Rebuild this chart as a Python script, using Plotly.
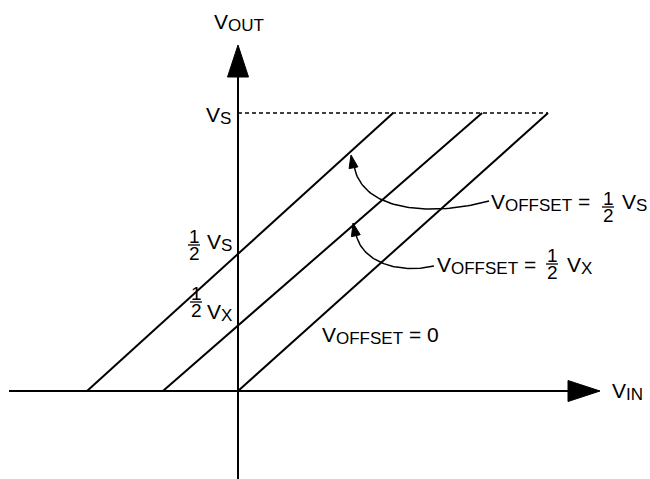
import numpy as np
import plotly.graph_objects as go

# transfer lines, VOUT normalised so that VS = 1 (VIN on the same scale)
vs_level = 1.0
half_vs = 0.5
half_vx = 0.234
vin_start = [-0.543, -0.270, 0.0]   # where each line leaves VOUT = 0
vin_end = [0.558, 0.878, 1.115]     # where each line reaches VS
vout_start = [0.0, 0.0, 0.0]
vout_end = [vs_level, vs_level, vs_level]

W, H = 650, 479
PX = 278.0            # pixels per unit, same on both axes
X0, Y0 = 238, 391     # pixel position of the origin
FONT = "Liberation Sans, Arial, sans-serif"


def P(xp, yp):
    # page pixel -> data coords (used only for placing decorations)
    return (xp - X0) / PX, (Y0 - yp) / PX


def tri(tip, direction, length, half_w):
    t = np.array(tip, dtype=float)
    dv = np.array(direction, dtype=float)
    dv = dv / np.hypot(*dv)
    nv = np.array([-dv[1], dv[0]])
    base = t - dv * length
    pts = [t, base + nv * half_w, base - nv * half_w, t]
    return [p[0] for p in pts], [p[1] for p in pts]


def bezier(p0, p1, p2, p3, n=60):
    s = np.linspace(0, 1, n)[:, None]
    pts = ((1 - s) ** 3) * np.array(p0) + 3 * ((1 - s) ** 2) * s * np.array(p1) \
        + 3 * (1 - s) * s ** 2 * np.array(p2) + s ** 3 * np.array(p3)
    return pts[:, 0], pts[:, 1]


fig = go.Figure()

# axes
ax_left = P(9, 0)[0]
ax_right_base = P(568, 0)[0]
ax_right_tip = P(600, 0)[0]
ay_bottom = P(0, H)[1]
ay_top_base = P(0, 77)[1]
ay_top_tip = P(0, 45)[1]

fig.add_trace(go.Scatter(x=[ax_left, ax_right_base], y=[0, 0], mode="lines",
                         line={"color": "black", "width": 2}, hoverinfo="skip"))
fig.add_trace(go.Scatter(x=[0, 0], y=[ay_bottom, ay_top_base], mode="lines",
                         line={"color": "black", "width": 2}, hoverinfo="skip"))
for tip, dv in [((ax_right_tip, 0), (1, 0)), ((0, ay_top_tip), (0, 1))]:
    tx, ty = tri(tip, dv, 32 / PX, 10.5 / PX)
    fig.add_trace(go.Scatter(x=tx, y=ty, mode="lines", fill="toself", fillcolor="black",
                             line={"color": "black", "width": 1}, hoverinfo="skip"))

# VS dashed level
fig.add_trace(go.Scatter(x=[0, max(vin_end)], y=[vs_level, vs_level], mode="lines",
                         line={"color": "black", "width": 1.3, "dash": "4px,3px"},
                         hoverinfo="skip"))

# transfer lines
for i in range(len(vin_start)):
    fig.add_trace(go.Scatter(x=[vin_start[i], vin_end[i]], y=[vout_start[i], vout_end[i]],
                             mode="lines", line={"color": "black", "width": 2},
                             hoverinfo="skip"))

# curved pointer arrows
curves = [
    [(489, 201), (430, 217), (362, 211), (354, 166), (351, 155)],
    [(434, 266), (400, 274), (362, 263), (356, 234), (353, 223)],
]
for c in curves:
    pts = [P(*q) for q in c[:4]]
    bx, by = bezier(*pts)
    fig.add_trace(go.Scatter(x=bx, y=by, mode="lines",
                             line={"color": "black", "width": 1.5}, hoverinfo="skip"))
    tip = P(*c[4])
    dv = (tip[0] - pts[2][0], tip[1] - pts[2][1])
    tx, ty = tri(tip, dv, 13 / PX, 4.5 / PX)
    fig.add_trace(go.Scatter(x=tx, y=ty, mode="lines", fill="toself", fillcolor="black",
                             line={"color": "black", "width": 1}, hoverinfo="skip"))

annotations = []
shapes = []


def label(text, xp, yp, anchor="left"):
    x, y = P(xp, yp)
    annotations.append(dict(x=x, y=y, text=text, showarrow=False, xanchor=anchor,
                            yanchor="middle", borderpad=0,
                            font={"family": FONT, "size": 21, "color": "black"}))


def frac(xp, yp):
    x, y = P(xp, yp)
    for t, dy in [("1", -8.5), ("2", 8.5)]:
        annotations.append(dict(x=x, y=y - dy / PX, text=t, showarrow=False,
                                xanchor="center", yanchor="middle", borderpad=0,
                                font={"family": FONT, "size": 19, "color": "black"}))
    shapes.append(dict(type="line", x0=x - 6 / PX, x1=x + 6 / PX, y0=y, y1=y,
                       line={"color": "black", "width": 1.3}))


def sub(s):
    return "<span style='font-size:17px;baseline-shift:-2px'>" + s + "</span>"


label("V" + sub("OUT"), 239, 22, "center")
label("V" + sub("IN"), 611, 391)
label("V" + sub("S"), 232, 115, "right")
frac(194, 245)
label("V" + sub("S"), 206, 242)
frac(196, 302)
label("V" + sub("X"), 206, 312)

label("V" + sub("OFFSET") + " =", 490, 202)
frac(608, 207)
label("V" + sub("S"), 621, 202)

label("V" + sub("OFFSET") + " =", 436, 265)
frac(552, 264)
label("V" + sub("X"), 566, 265)

label("V" + sub("OFFSET") + " = 0", 321, 335)

fig.update_layout(
    width=W, height=H,
    margin={"l": 0, "r": 0, "t": 0, "b": 0},
    paper_bgcolor="white", plot_bgcolor="white",
    showlegend=False,
    xaxis={"range": [-X0 / PX, (W - X0) / PX], "visible": False, "fixedrange": True},
    yaxis={"range": [-(H - Y0) / PX, Y0 / PX], "visible": False, "fixedrange": True},
    annotations=annotations,
    shapes=shapes,
)

fig.write_html("out.html", config={"displayModeBar": False},
               post_script="document.body.style.margin='0';")
